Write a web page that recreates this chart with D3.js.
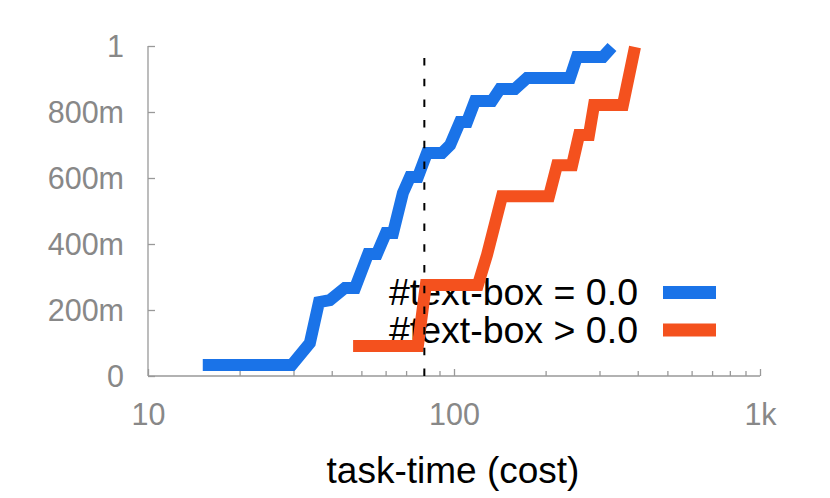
<!DOCTYPE html>
<html>
<head>
<meta charset="utf-8">
<script src="https://cdn.jsdelivr.net/npm/d3@7"></script>
<style>
  body { margin: 0; background: #fff; }
  svg { display: block; font-family: "Liberation Sans", Arial, sans-serif; }
</style>
</head>
<body>
<svg id="chart" width="830" height="498"></svg>
<script>
// ECDF of task-time, text-box == 0 (blue) and > 0 (orange)
var blueCost = [15.1, 29.5, 33.8, 36.2, 39.3, 44.0, 47.5, 52.4, 56.0, 59.9, 63.2, 68.1, 71.8, 76.2, 81.6, 91.4, 97.1, 104.6, 110.3, 117.1, 133, 141.3, 158.1, 173.2, 239.3, 252.2, 306.8, 328.3];
var blueFrac = [0.033, 0.033, 0.1, 0.224, 0.23, 0.267, 0.267, 0.37, 0.37, 0.433, 0.433, 0.555, 0.603, 0.603, 0.676, 0.676, 0.7, 0.77, 0.77, 0.833, 0.833, 0.87, 0.87, 0.903, 0.903, 0.967, 0.967, 0.997];
var orangeCost = [46.8, 76.2, 80.9, 119.7, 128.2, 143.5, 204.4, 217.1, 243.2, 256.2, 276.1, 286.8, 356.4, 390.4];
var orangeFrac = [0.091, 0.091, 0.276, 0.276, 0.367, 0.545, 0.545, 0.639, 0.639, 0.73, 0.73, 0.821, 0.821, 0.997];
var legendLabels = ['#text-box = 0.0', '#text-box > 0.0'];
var colors = ['#1a73e8', '#f4511e'];
var xTicks = [10, 100, 1000], xTickLabels = ['10', '100', '1k'];
var yTicks = [0, 0.2, 0.4, 0.6, 0.8, 1], yTickLabels = ['0', '200m', '400m', '600m', '800m', '1'];
var cutoff = 80;

var svg = d3.select('#chart');
var x = d3.scaleLog().domain([10, 1000]).range([148, 760]);
var y = d3.scaleLinear().domain([0, 1]).range([376, 46]);
var axisCol = '#999', labelCol = '#888';

// axes
var xAxis = svg.append('g').attr('transform', 'translate(0,376)')
	.call(d3.axisBottom(x).tickValues(xTicks).tickSize(-7).tickFormat(function(d, i){ return xTickLabels[i]; }));
var yAxis = svg.append('g').attr('transform', 'translate(148,0)')
	.call(d3.axisLeft(y).tickValues(yTicks).tickSize(-7).tickFormat(function(d, i){ return yTickLabels[i]; }));
[xAxis, yAxis].forEach(function(a){
	a.select('.domain').attr('stroke', axisCol).attr('stroke-width', 1.3);
	a.selectAll('.tick line').attr('stroke', axisCol).attr('stroke-width', 1.3);
	a.selectAll('.tick text').attr('fill', labelCol).style('font-size', '30.5px').style('font-family', '"Liberation Sans", Arial, sans-serif');
});
xAxis.select('.domain').attr('d', 'M148,0H760');
yAxis.select('.domain').attr('d', 'M0,46V376');
xAxis.selectAll('.tick text').attr('dy', null).attr('y', 49);
yAxis.selectAll('.tick text').attr('x', -24).attr('dy', '0.36em');

// minor ticks
var minor = [];
[10, 100].forEach(function(b){ for (var k = 2; k < 10; k++) minor.push(b * k); });
xAxis.selectAll('line.minor').data(minor).enter().append('line')
	.attr('class', 'minor')
	.attr('x1', function(d){ return x(d); }).attr('x2', function(d){ return x(d); })
	.attr('y1', 0).attr('y2', -5)
	.attr('stroke', axisCol).attr('stroke-width', 1.3);

// legend text (under the lines)
var legend = svg.append('g');
legendLabels.forEach(function(t, i){
	legend.append('text').attr('x', 638).attr('y', 305 + i * 38)
		.attr('text-anchor', 'end').style('font-size', '37.5px').attr('fill', '#000').text(t);
	legend.append('rect').attr('x', 663).attr('y', 286 + i * 37.5).attr('width', 53).attr('height', 13).attr('fill', colors[i]);
});

// lines
var line = d3.line().x(function(d){ return x(d[0]); }).y(function(d){ return y(d[1]); });
var series = [d3.zip(blueCost, blueFrac), d3.zip(orangeCost, orangeFrac)];
[1, 0].forEach(function(i){
	svg.append('path').datum(series[i])
		.attr('d', line)
		.attr('fill', 'none')
		.attr('stroke', colors[i])
		.attr('stroke-width', 12)
		.attr('stroke-linejoin', 'miter')
		.attr('stroke-linecap', 'butt');
});

// dashed cutoff
svg.append('line')
	.attr('x1', x(cutoff)).attr('x2', x(cutoff))
	.attr('y1', 58).attr('y2', 381)
	.attr('stroke', '#000').attr('stroke-width', 2).attr('stroke-dasharray', '7.5,13.2');

// x title
svg.append('text').attr('x', 453).attr('y', 483).attr('text-anchor', 'middle')
	.style('font-size', '37px').attr('fill', '#000').text('task-time (cost)');
</script>
</body>
</html>
